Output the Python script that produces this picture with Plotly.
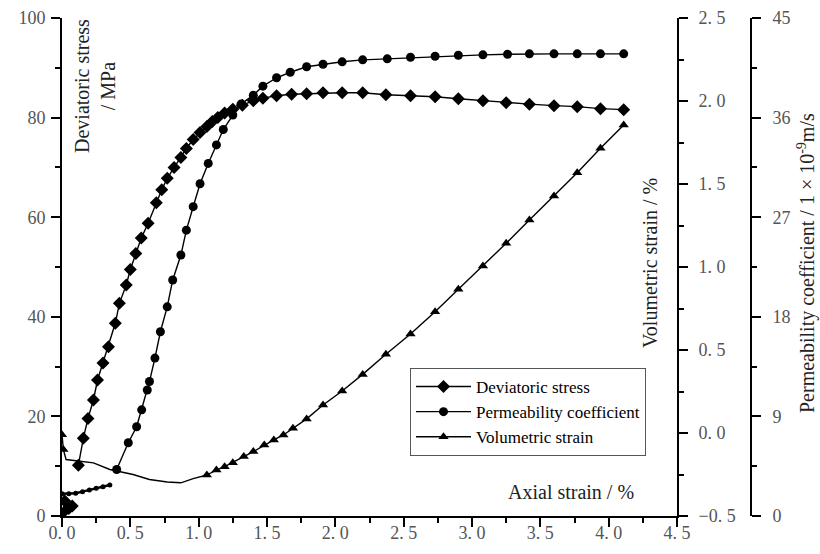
import plotly.graph_objects as go

# ---- data -------------------------------------------------------------
# Deviatoric stress (MPa) vs axial strain (%); None splits the initial seating points
dev_strain = [0.0, 0.02, 0.05, 0.075, None,
              0.12, 0.156, 0.19, 0.23, 0.26, 0.30, 0.34, 0.39, 0.42, 0.47, 0.50,
              0.54, 0.58, 0.63, 0.69, 0.73, 0.77, 0.82, 0.87, 0.91, 0.96, 1.01,
              1.06, 1.10, 1.14, 1.19, 1.25, 1.32, 1.40, 1.47, 1.57, 1.68, 1.79,
              1.91, 2.05, 2.20, 2.37, 2.55, 2.73, 2.90, 3.08, 3.25, 3.42, 3.60,
              3.77, 3.94, 4.11]
dev_stress = [0.5, 3.0, 1.5, 2.0, None,
              10.2, 15.6, 19.6, 23.3, 27.3, 30.7, 34.0, 38.7, 42.7, 46.4, 49.5,
              52.7, 55.8, 58.8, 62.9, 65.5, 67.8, 70.0, 72.0, 73.8, 75.6, 77.0,
              78.2, 79.2, 80.0, 80.9, 81.7, 82.5, 83.4, 83.9, 84.4, 84.7, 84.8,
              85.0, 85.0, 85.0, 84.6, 84.4, 84.2, 83.8, 83.4, 83.0, 82.7, 82.4,
              82.2, 81.8, 81.6]

# Permeability coefficient (1e-9 m/s): early seating readings, then the main record
perm_early_strain = [0.0, 0.05, 0.10, 0.15, 0.20, 0.25, 0.30, 0.35]
perm_early_value = [2.0, 2.0, 2.05, 2.2, 2.35, 2.5, 2.65, 2.8]
perm_strain = [0.40, 0.485, 0.546, 0.583, 0.624, 0.64, 0.68, 0.72, 0.77, 0.81,
               0.87, 0.91, 0.96, 1.01, 1.07, 1.13, 1.18, 1.25, 1.31, 1.40, 1.47,
               1.57, 1.67, 1.79, 1.91, 2.05, 2.20, 2.38, 2.55, 2.73, 2.90, 3.08,
               3.26, 3.42, 3.60, 3.77, 3.94, 4.11]
perm_value = [4.2, 6.62, 8.06, 9.59, 11.39, 12.15, 14.27, 16.65, 18.9, 21.33,
              23.58, 25.83, 27.95, 30.02, 31.86, 33.53, 34.92, 36.23, 37.22, 38.03, 38.84,
              39.6, 40.1, 40.59, 40.82, 41.04, 41.22, 41.31, 41.45, 41.54, 41.63, 41.67,
              41.72, 41.76, 41.76, 41.76, 41.76, 41.76]

# Volumetric strain (%)
vol_strain_x = [0.0, 0.01, 0.03, 0.08, 0.15, 0.23, 0.35, 0.45, 0.52, 0.64, 0.77,
                0.87, 0.96, 1.06, 1.13, 1.19, 1.25, 1.33, 1.40, 1.48, 1.55, 1.62,
                1.69, 1.79, 1.91, 2.05, 2.20, 2.37, 2.55, 2.73, 2.90, 3.08, 3.25,
                3.42, 3.60, 3.77, 3.94, 4.11]
vol_strain = [-0.01, -0.10, -0.16, -0.165, -0.17, -0.18, -0.22, -0.235, -0.25, -0.28, -0.295,
              -0.30, -0.275, -0.253, -0.223, -0.203, -0.179, -0.142, -0.112, -0.072, -0.042, -0.012,
              0.028, 0.085, 0.169, 0.253, 0.353, 0.474, 0.596, 0.731, 0.866, 1.006, 1.143,
              1.283, 1.428, 1.568, 1.715, 1.855]

x_ticks = [0, 0.5, 1.0, 1.5, 2.0, 2.5, 3.0, 3.5, 4.0, 4.5]
x_tick_text = ["0. 0", "0. 5", "1. 0", "1. 5", "2. 0", "2. 5", "3. 0", "3. 5", "4. 0", "4. 5"]
vol_ticks = [-0.5, 0.0, 0.5, 1.0, 1.5, 2.0, 2.5]
vol_tick_text = ["\u22120. 5", "0. 0", "0. 5", "1. 0", "1. 5", "2. 0", "2. 5"]
stress_ticks = [0, 20, 40, 60, 80, 100]
perm_ticks = [0, 9, 18, 27, 36, 45]

# ---- geometry helpers (pixel -> paper) -------------------------------
W, H = 820, 554
ML, MR, MT, MB = 62, 40, 18, 38
PW, PH = W - ML - MR, H - MT - MB


def fx(px):
    return (px - ML) / PW


def fy(py):
    return (H - MB - py) / PH


SERIF = "Liberation Serif, Times New Roman, serif"
TICK_FONT = dict(family=SERIF, size=18, color="#555")
LINE = dict(color="black", width=1.4)

fig = go.Figure()

fig.add_trace(go.Scatter(
    x=dev_strain, y=dev_stress, name="Deviatoric stress",
    mode="lines+markers", line=LINE, connectgaps=False,
    marker=dict(symbol="diamond", size=10, color="black"),
    yaxis="y"))

fig.add_trace(go.Scatter(
    x=perm_strain, y=perm_value, name="Permeability coefficient",
    mode="lines+markers", line=LINE,
    marker=dict(symbol="circle", size=9, color="black"),
    yaxis="y3"))
fig.add_trace(go.Scatter(
    x=perm_early_strain, y=perm_early_value, showlegend=False,
    mode="lines+markers", line=dict(color="black", width=2.5),
    marker=dict(symbol="circle", size=5, color="black"),
    yaxis="y3"))

# volumetric strain: markers only where the record is sparse
split = next(i for i, v in enumerate(vol_strain_x) if v >= 1.0)
fig.add_trace(go.Scatter(
    x=vol_strain_x[split:], y=vol_strain[split:], name="Volumetric strain",
    mode="lines+markers", line=LINE,
    marker=dict(symbol="triangle-up", size=9, color="black"),
    yaxis="y2"))
fig.add_trace(go.Scatter(
    x=vol_strain_x[:split + 1], y=vol_strain[:split + 1], showlegend=False,
    mode="lines", line=LINE, yaxis="y2"))
fig.add_trace(go.Scatter(
    x=vol_strain_x[:2], y=vol_strain[:2], showlegend=False,
    mode="markers", marker=dict(symbol="triangle-up", size=9, color="black"),
    yaxis="y2"))

axis_common = dict(showline=True, linecolor="black", linewidth=2,
                   ticks="outside", tickcolor="black", tickwidth=2, ticklen=9,
                   showgrid=False, zeroline=False, tickfont=TICK_FONT)
minor_common = dict(ticklen=5, tickwidth=2, tickcolor="black", ticks="outside")

fig.update_layout(
    width=W, height=H,
    margin=dict(l=ML, r=MR, t=MT, b=MB, autoexpand=False),
    paper_bgcolor="white", plot_bgcolor="white",
    showlegend=True,
    legend=dict(x=fx(410), y=fy(368), xanchor="left", yanchor="top",
                bordercolor="#555", borderwidth=1, bgcolor="white",
                font=dict(family=SERIF, size=17, color="black"),
                itemwidth=55, tracegroupgap=4),
    xaxis=dict(domain=[0, fx(677)], range=[0, 4.5],
               tickvals=x_ticks, ticktext=x_tick_text, ticklabelstandoff=-10,
               minor=dict(dtick=0.25, **minor_common),
               **axis_common),
    yaxis=dict(range=[0, 100], tickvals=stress_ticks, ticklabelstandoff=2,
               minor=dict(dtick=10, **minor_common),
               **axis_common),
    yaxis2=dict(range=[-0.5, 2.5], overlaying="y", side="right", anchor="x",
                tickvals=vol_ticks, ticktext=vol_tick_text, ticklabelstandoff=7,
                minor=dict(dtick=0.25, **minor_common),
                **axis_common),
    yaxis3=dict(range=[0, 45], overlaying="y", side="right", anchor="free",
                position=fx(751), tickvals=perm_ticks, ticklabelstandoff=8,
                minor=dict(dtick=4.5, **minor_common),
                **axis_common),
)

TITLE_FONT = dict(family=SERIF, size=20, color="#222")
title_common = dict(xref="paper", yref="paper", showarrow=False,
                    xanchor="center", yanchor="middle", font=TITLE_FONT)
fig.add_annotation(text="Deviatoric stress<br>/ MPa", x=fx(95), y=fy(86),
                   textangle=-90, align="center", **title_common)
fig.add_annotation(text="Volumetric strain / %", x=fx(650), y=fy(263),
                   textangle=-90, **title_common)
fig.add_annotation(text="Permeability coefficient / 1 \u00d7 10<sup>-9</sup>m/s",
                   x=fx(806), y=fy(263), textangle=-90, **title_common)
fig.add_annotation(text="Axial strain / %", x=fx(571), y=fy(492), **title_common)

fig.write_html("out.html")
